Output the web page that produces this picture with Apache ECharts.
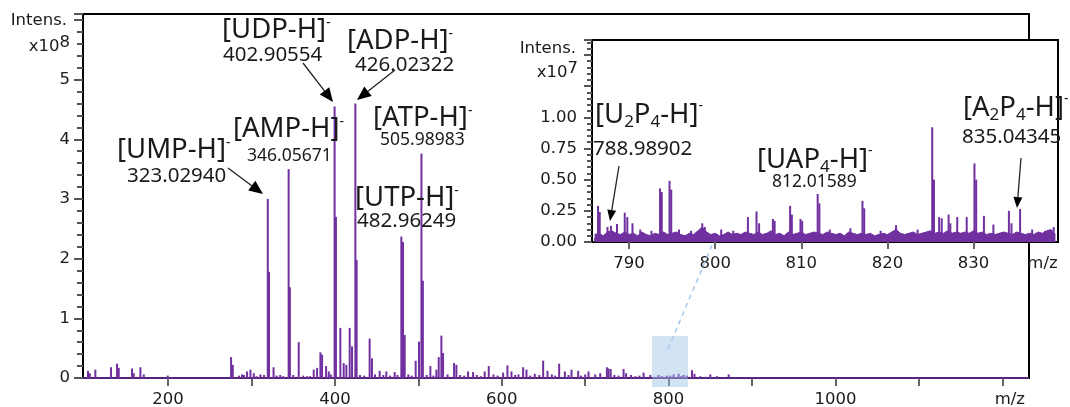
<!DOCTYPE html>
<html><head><meta charset="utf-8">
<script src="https://cdn.jsdelivr.net/npm/echarts@6/dist/echarts.min.js"></script>
<style>html,body{margin:0;padding:0;background:#fff}#c{width:1070px;height:407px}</style>
</head><body><div id="c"></div>
<script>
// ---------- DATA ----------
// main spectrum: m/z and intensity (x10^8)
const mainMz = [104,106.2,112.8,131.6,138.8,140.8,156.8,158.8,166.8,170.8,199.6,275.5,277.5,288.7,294.7,298.7,302.7,310.7,
  319.5,321,326.4,334.4,344.5,346,356.6,366.6,374.6,378.6,382.6,384.6,389.4,392.6,399.6,401.2,406.5,410.5,413.7,417.7,420.5,
  424.5,426,441.6,444.4,453.6,461.6,471.6,479.6,481.6,483.6,496.8,500.8,503.7,505.4,514.4,521.6,524.4,527.6,529.6,542.8,545.6,
  559.6,565.6,579.5,584.4,601.6,606.8,611.6,625.6,629.6,639.6,649.6,654.8,668.8,675.6,683.6,691.6,704,712,718,726,728,730.5,
  746,749,770,788,798,806,812,818,828,831,850,872];
const mainInt = [0.12,0.08,0.14,0.18,0.24,0.17,0.16,0.08,0.18,0.06,0.04,0.35,0.22,0.06,0.11,0.14,0.08,0.06,
  3.0,1.78,0.18,0.05,3.5,1.52,0.6,0.03,0.14,0.17,0.43,0.39,0.2,0.11,4.55,2.7,0.84,0.25,0.22,0.84,0.53,
  4.6,1.98,0.66,0.33,0.12,0.11,0.1,2.37,2.28,0.72,0.29,0.61,3.76,1.63,0.2,0.14,0.35,0.71,0.42,0.25,0.22,
  0.11,0.1,0.11,0.2,0.09,0.21,0.11,0.18,0.14,0.07,0.29,0.12,0.24,0.11,0.14,0.12,0.11,0.06,0.08,0.18,0.16,0.15,
  0.15,0.08,0.09,0.05,0.04,0.06,0.07,0.05,0.13,0.07,0.06,0.06];
// small baseline noise sticks in main spectrum (x10^8)
const mainNoiseMz  = [285,291,306,315,330,338,350,362,370,395,430,435,448,458,466,475,488,492,510,518,535,550,555,570,575,
  590,595,616,620,634,645,660,664,680,695,700,735,740,755,760,765,778,792,802,815,822,838,844,858];
const mainNoiseInt = [0.04,0.05,0.03,0.05,0.04,0.03,0.05,0.04,0.03,0.06,0.05,0.04,0.06,0.05,0.04,0.05,0.06,0.04,0.05,0.04,
  0.06,0.05,0.04,0.05,0.03,0.06,0.04,0.05,0.06,0.04,0.05,0.06,0.04,0.05,0.04,0.06,0.05,0.04,0.05,0.03,0.04,0.05,0.03,0.04,
  0.03,0.04,0.03,0.02,0.03];

// inset spectrum: peaks (m/z, intensity x10^7)
const insetMz  = [786.4,786.6,787.5,787.9,788.6,789.5,789.8,790.4,791.3,792.6,793.6,793.8,794.7,794.9,795.8,797.2,798.5,798.8,
  800.7,802.1,803.8,804.8,805.1,806.7,806.9,808.7,808.9,809.9,810.1,811.9,812.1,813.3,815.7,817.1,817.3,819.2,821.0,823.5,
  825.2,825.4,826.0,826.3,827.1,827.3,828.1,829.2,830.1,830.3,831.2,832.3,834.1,834.4,835.4,836.8,838.3,839.3];
const insetInt = [0.29,0.24,0.12,0.13,0.145,0.235,0.20,0.15,0.10,0.09,0.43,0.40,0.49,0.42,0.10,0.09,0.15,0.12,
  0.10,0.09,0.20,0.245,0.15,0.185,0.17,0.29,0.22,0.185,0.17,0.385,0.31,0.10,0.11,0.33,0.27,0.09,0.135,0.10,
  0.92,0.50,0.20,0.19,0.22,0.15,0.20,0.20,0.63,0.50,0.21,0.14,0.25,0.15,0.265,0.10,0.09,0.12];
// inset noise floor, sampled every 0.5 m/z from 786.0 (x10^7)
const insetNoiseStart = 786.0, insetNoiseStep = 0.5;
const insetNoise = [
  0.06,0.07,0.05,0.08,0.09,0.07,0.06,0.08,0.06,0.07,
  0.05,0.08,0.06,0.05,0.07,0.06,0.08,0.06,0.07,0.08,
  0.06,0.05,0.07,0.06,0.09,0.12,0.08,0.06,0.07,0.05,
  0.06,0.08,0.06,0.07,0.06,0.08,0.07,0.06,0.08,0.06,
  0.07,0.09,0.06,0.07,0.05,0.08,0.06,0.07,0.08,0.06,
  0.07,0.08,0.07,0.06,0.08,0.07,0.06,0.07,0.05,0.08,
  0.07,0.06,0.07,0.06,0.07,0.05,0.06,0.07,0.06,0.08,
  0.10,0.07,0.06,0.07,0.08,0.06,0.07,0.08,0.09,0.07,
  0.08,0.07,0.09,0.07,0.08,0.07,0.08,0.07,0.09,0.07,
  0.08,0.06,0.07,0.06,0.07,0.08,0.07,0.06,0.08,0.07,
  0.06,0.07,0.06,0.08,0.07,0.09,0.10,0.06];

// ticks / labels
const mainXTicks  = [200,300,400,500,600,700,800,900,1000,1100,1200];
const mainXLabels = [200,400,600,800,1000];
const mainUnitAt  = 1209;
const insetXTicks  = [790,800,810,820,830];
const insetXMinor  = [786,788,790,792,794,796,798,800,802,804,806,808,810,812,814,816,818,820,822,824,826,828,830,832,834,836,838];
const insetUnitAt  = 838;

// ---------- CHART ----------
const PURPLE = '#7030a0';
const TXT = '#1a1a1a';
const TICKF = 'DejaVu Sans';
const TICKS = 16.5;
const ANNF = 'Noto Sans';

const chart = echarts.init(document.getElementById('c'), null, {renderer:'canvas'});

const mainData = mainMz.map((m,i)=>[m, mainInt[i]]).concat(mainNoiseMz.map((m,i)=>[m, mainNoiseInt[i]]));
const insetPeakData = insetMz.map((m,i)=>[m, insetInt[i]]);
const insetNoiseData = insetNoise.map((v,i)=>[insetNoiseStart + i*insetNoiseStep, v]);

const tickLabelStyle = {fontFamily:TICKF, fontSize:TICKS, color:TXT};

function rich(size){
  return {
    sup:{fontFamily:ANNF, fontSize:14, fill:TXT, verticalAlign:'top'},
    sub:{fontFamily:ANNF, fontSize:Math.round(size*0.62), fill:TXT, verticalAlign:'bottom', lineHeight:32}
  };
}
function ann(x, y, text, size){
  return {type:'text', x:x, y:y, z:20, silent:true,
    style:{text:text, fontFamily:ANNF, fontSize:size, fill:TXT, align:'left', verticalAlign:'middle', lineHeight:28, rich:rich(size)}};
}
function arrow(x1,y1,x2,y2,headLen,headW){
  const dx=x2-x1, dy=y2-y1, L=Math.hypot(dx,dy), ux=dx/L, uy=dy/L;
  const bx=x2-ux*headLen, by=y2-uy*headLen, px=-uy, py=ux;
  return [
    {type:'line', z:20, silent:true, shape:{x1:x1,y1:y1,x2:bx,y2:by}, style:{stroke:'#222', lineWidth:1.3}},
    {type:'polygon', z:20, silent:true, shape:{points:[[x2,y2],[bx+px*headW/2,by+py*headW/2],[bx-px*headW/2,by-py*headW/2]]}, style:{fill:'#000'}}
  ];
}
function unitLabel(x, y, exp){
  return {type:'text', x:x, y:y, z:20, silent:true,
    style:{text:'x10{s|'+exp+'}', fontFamily:TICKF, fontSize:TICKS, fill:TXT, align:'right', verticalAlign:'middle', lineHeight:16,
      rich:{s:{fontFamily:TICKF, fontSize:TICKS, fill:TXT, verticalAlign:'top', lineHeight:26}}}};
}

const graphics = [
  // main y-axis header
  {type:'text', x:67, y:21, z:20, silent:true, style:{text:'Intens.', fontFamily:TICKF, fontSize:TICKS, fill:TXT, align:'right', verticalAlign:'middle'}},
  unitLabel(70, 47, 8),
  // inset y-axis header
  {type:'text', x:576, y:49, z:20, silent:true, style:{text:'Intens.', fontFamily:TICKF, fontSize:TICKS, fill:TXT, align:'right', verticalAlign:'middle'}},
  unitLabel(578, 73, 7),
  // zoom region highlight and connector
  {type:'rect', z:15, silent:true, shape:{x:652, y:336, width:36, height:51}, style:{fill:'rgba(155,194,230,0.45)'}},
  {type:'line', z:15, silent:true, shape:{x1:668, y1:349, x2:713, y2:243}, style:{stroke:'#a9c7ea', lineWidth:1.5, lineDash:[5,4]}},
  // main annotations
  ann(117, 150, '[UMP-H]{sup|-}', 27.5), ann(127, 176, '323.02940', 20.5),
  ann(233, 129, '[AMP-H]{sup|-}', 27.5), ann(247, 156, '346.05671', 17.5),
  ann(222, 30, '[UDP-H]{sup|-}', 27.5),  ann(223, 55, '402.90554', 20.5),
  ann(347, 41, '[ADP-H]{sup|-}', 27.5),  ann(355, 65, '426.02322', 20.5),
  ann(373, 118, '[ATP-H]{sup|-}', 27.5), ann(380, 140, '505.98983', 17.5),
  ann(355, 198, '[UTP-H]{sup|-}', 27.5), ann(357, 221, '482.96249', 20.5),
  // inset annotations
  ann(595, 115, '[U{sub|2}P{sub|4}-H]{sup|-}', 27.5), ann(593, 149, '788.98902', 20.5),
  ann(757, 160, '[UAP{sub|4}-H]{sup|-}', 27.5), ann(772, 182, '812.01589', 17.5),
  ann(963, 108, '[A{sub|2}P{sub|4}-H]{sup|-}', 27.5), ann(962, 137, '835.04345', 20.5)
].concat(
  arrow(228,168,263,194,14,12),
  arrow(303,63,333,102,14,12),
  arrow(395,70,357,100,14,12),
  arrow(619,166,610,221,11,9),
  arrow(1021,158,1017,208,11,9)
);

const option = {
  animation:false,
  backgroundColor:'#ffffff',
  grid:[
    {left:83, top:14, width:946, height:364, show:true, borderColor:'#000', borderWidth:2, backgroundColor:'transparent', containLabel:false, outerBoundsMode:'none'},
    {left:592, top:40, width:466, height:202, show:true, borderColor:'#000', borderWidth:2, backgroundColor:'#ffffff', containLabel:false, outerBoundsMode:'none'}
  ],
  xAxis:[
    {gridIndex:0, type:'value', min:98, max:1232,
     axisLine:{show:true, onZero:false, lineStyle:{color:'#000', width:2}},
     axisTick:{show:true, customValues:mainXTicks, length:8, lineStyle:{color:'#666', width:2}},
     axisLabel:Object.assign({customValues:mainXLabels.concat([mainUnitAt]), margin:13,
       formatter:function(v){return v===mainUnitAt?'m/z':String(v);}}, tickLabelStyle),
     splitLine:{show:false}},
    {gridIndex:1, type:'value', min:785.7, max:839.8,
     axisLine:{show:true, onZero:false, lineStyle:{color:'#000', width:2}},
     axisTick:{show:true, customValues:insetXTicks, length:7, lineStyle:{color:'#666', width:2}},
     axisLabel:Object.assign({customValues:insetXTicks.concat([insetUnitAt]), margin:13,
       formatter:function(v){return v===insetUnitAt?'m/z':String(v);}}, tickLabelStyle),
     splitLine:{show:false}},
    {gridIndex:1, type:'value', min:785.7, max:839.8,
     axisLine:{show:false},
     axisTick:{show:true, customValues:insetXMinor, length:4, lineStyle:{color:'#666', width:2}},
     axisLabel:{show:false}, splitLine:{show:false}}
  ],
  yAxis:[
    {gridIndex:0, type:'value', min:0, max:6.1, interval:1,
     axisLine:{show:true, onZero:false, lineStyle:{color:'#000', width:2}},
     axisTick:{show:true, length:9, lineStyle:{color:'#555', width:2}},
     minorTick:{show:true, splitNumber:5, length:6, lineStyle:{color:'#555', width:2}},
     axisLabel:Object.assign({margin:13, formatter:function(v){return (v<=5 && Math.abs(v-Math.round(v))<1e-9)?String(Math.round(v)):'';}}, tickLabelStyle),
     splitLine:{show:false}, minorSplitLine:{show:false}},
    {gridIndex:1, type:'value', min:0, max:1.62, interval:0.25,
     axisLine:{show:true, onZero:false, lineStyle:{color:'#000', width:2}},
     axisTick:{show:true, length:8, lineStyle:{color:'#555', width:2}},
     minorTick:{show:true, splitNumber:5, length:5, lineStyle:{color:'#555', width:2}},
     axisLabel:Object.assign({margin:15, formatter:function(v){return v<=1.0001?v.toFixed(2):'';}}, tickLabelStyle),
     splitLine:{show:false}, minorSplitLine:{show:false}}
  ],
  series:[
    {type:'bar', xAxisIndex:0, yAxisIndex:0, data:mainData, barWidth:2, itemStyle:{color:PURPLE}, silent:true,
     markLine:{silent:true, symbol:'none', label:{show:false}, lineStyle:{color:PURPLE, width:1.5, type:'solid'}, data:[{yAxis:0}]}},
    {type:'line', xAxisIndex:1, yAxisIndex:1, data:insetNoiseData, showSymbol:false, silent:true,
     lineStyle:{color:PURPLE, width:1}, areaStyle:{color:PURPLE, opacity:1}},
    {type:'bar', xAxisIndex:1, yAxisIndex:1, data:insetPeakData, barWidth:2, itemStyle:{color:PURPLE}, silent:true}
  ],
  graphic:graphics
};
chart.setOption(option);
</script></body></html>
